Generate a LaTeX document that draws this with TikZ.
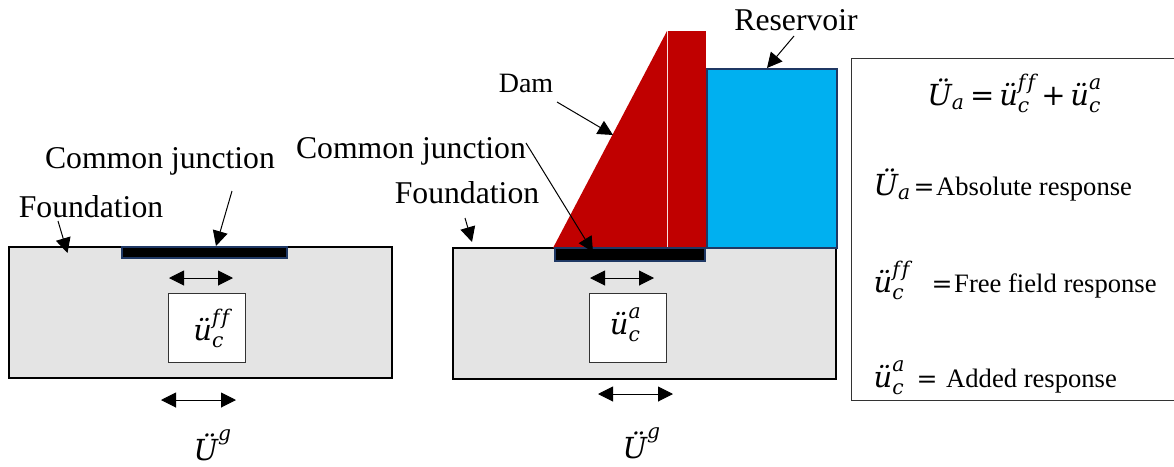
\documentclass[tikz,border=0pt]{standalone}
\usepackage{amsmath}
\usepackage{fontspec}
\setmainfont{Liberation Serif}
\newfontfamily\mfont{DejaVu Serif}
\usetikzlibrary{arrows.meta}
\definecolor{navy}{HTML}{1F3864}
\definecolor{ground}{HTML}{E4E4E4}
\definecolor{damred}{HTML}{C00000}
\definecolor{water}{HTML}{00B0F0}
\newcommand{\vi}[1]{\text{\mfont\itshape #1}}
\newcommand{\uc}[1]{\vi{ü}_{\vi{c}}^{\vi{#1}}}
\newcommand{\Ua}{\vi{Ü}_{\vi{a}}}
\newcommand{\Ug}{\vi{Ü}^{\vi{g}}}
\newcommand{\ffsup}{f\kern0.1em f}
\tikzset{
  x=1pt,y=-1pt,
  box/.style={rectangle,inner sep=0pt,outer sep=0pt,anchor=north west},
  groundbox/.style={box,draw=black,line width=2pt,fill=ground,minimum width=383pt,minimum height=131pt},
  valuebox/.style={box,draw=black!80,line width=1pt,fill=white,minimum width=77pt,minimum height=69pt},
  barbox/.style={box,draw=navy,line width=2pt,fill=black},
  biglabel/.style={inner sep=0pt,anchor=base,font=\fontsize{31.7}{36}\selectfont},
  damlabel/.style={inner sep=0pt,anchor=base,font=\fontsize{28}{32}\selectfont},
  smalllabel/.style={inner sep=0pt,anchor=base west,font=\fontsize{26.6}{30}\selectfont},
  equals/.style={inner sep=0pt,anchor=base,font=\mfont\fontsize{25}{30}\selectfont},
  mathlabel/.style={inner sep=0pt,anchor=base,scale=2.9},
  mathwest/.style={inner sep=0pt,anchor=base west,scale=2.9},
  pointer/.style={line width=1pt,-{Triangle[length=15pt,width=15pt]}},
  shake/.style={line width=1pt,{Triangle[length=15pt,width=15pt]}-{Triangle[length=15pt,width=15pt]}},
}
\begin{document}
\begin{tikzpicture}
\useasboundingbox (0,0) rectangle (1174,466);
% left block
\node[groundbox] (gl) at (9,247) {};
\node[barbox,minimum width=165pt,minimum height=11pt] (bl) at (122,247) {};
\node[valuebox] (vl) at (168,293) {};
\node[mathlabel] (mvl) at (212,340) {$\uc{\ffsup}$};
\node[biglabel] (cjl) at (160,168) {Common junction};
\node[biglabel] (fl) at (91,217) {Foundation};
\node[mathlabel] (ugl) at (213,460) {$\Ug$};
\coordinate (a1) at (232,191); \coordinate (a2) at (216,246);
\coordinate (a3) at (58,221);  \coordinate (a4) at (67.5,253);
\coordinate (s1) at (169,278); \coordinate (s2) at (233,278);
\coordinate (s3) at (161,400); \coordinate (s4) at (236,400);
\draw[pointer] (a1) -- (a2);
\draw[pointer] (a3) -- (a4);
\draw[shake] (s1) -- (s2);
\draw[shake] (s3) -- (s4);
% middle block
\node[groundbox] (gm) at (453,248) {};
\fill[damred] (553,248) -- (667,31) -- (667,248) -- cycle;
\fill[damred] (668,30.5) rectangle (706,248);
\node[box,draw=navy,line width=2pt,fill=water,minimum width=130pt,minimum height=179pt] (res) at (707,69) {};
\node[barbox,minimum width=150pt,minimum height=13pt] (bm) at (555,248) {};
\node[valuebox] (vm) at (589,293) {};
\node[mathlabel] (mvm) at (626,334) {$\uc{a}$};
\node[biglabel] (cjm) at (411,158) {Common junction};
\node[biglabel] (fm) at (467,203) {Foundation};
\node[damlabel] (dam) at (526,92) {Dam};
\node[biglabel] (rl) at (796,30) {Reservoir};
\node[mathlabel] (ugm) at (642,458) {$\Ug$};
\coordinate (b1) at (794,36);  \coordinate (b2) at (767,68);
\coordinate (b3) at (557,102); \coordinate (b4) at (613,135);
\coordinate (b5) at (526,143); \coordinate (b6) at (593,252);
\coordinate (b7) at (465,218); \coordinate (b8) at (472,242);
\coordinate (t1) at (590,278); \coordinate (t2) at (654,278);
\coordinate (t3) at (598,394); \coordinate (t4) at (673,394);
\draw[pointer] (b1) -- (b2);
\draw[pointer] (b3) -- (b4);
\draw[pointer] (b5) -- (b6);
\draw[pointer] (b7) -- (b8);
\draw[shake] (t1) -- (t2);
\draw[shake] (t3) -- (t4);
% legend
\draw[black!80,line width=1pt] (1175,58) -- (851,58) -- (851,400) -- (1175,400);
\node[mathlabel] (eq) at (1015,105) {$\Ua\,\text{\mfont =}\,\uc{\ffsup}\,\text{\mfont +}\,\uc{a}$};
\node[mathwest] (l1) at (873,195) {$\Ua$};
\node[equals] (e1) at (924,195) {=};
\node[smalllabel] (t1a) at (936,195) {Absolute response};
\node[mathwest] (l2) at (873,292) {$\uc{\ffsup}$};
\node[equals] (e2) at (942,292) {=};
\node[smalllabel] (t2a) at (954,292) {Free field response};
\node[mathwest] (l3) at (873,387) {$\uc{a}$};
\node[equals] (e3) at (927,387) {=};
\node[smalllabel] (t3a) at (946,387) {Added response};
\end{tikzpicture}
\end{document}
